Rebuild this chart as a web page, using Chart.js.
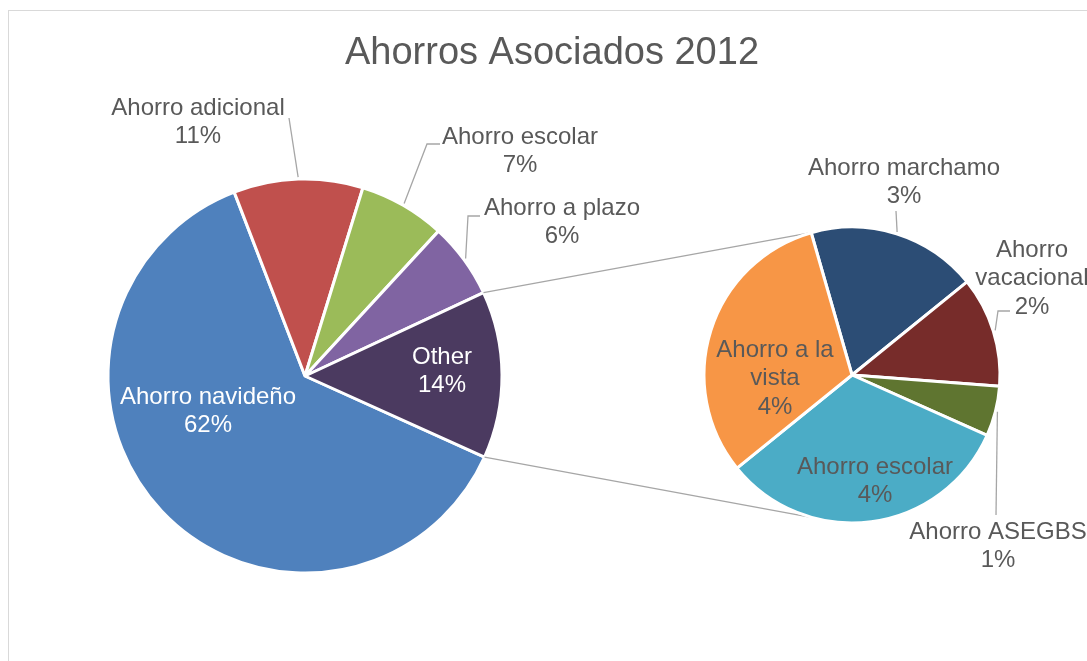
<!DOCTYPE html>
<html>
<head>
<meta charset="utf-8">
<script src="https://cdn.jsdelivr.net/npm/chart.js@4.4.0/dist/chart.umd.min.js"></script>
<style>
  html, body { margin: 0; padding: 0; background: #fff; }
  #wrap { position: relative; width: 1087px; height: 661px; overflow: hidden; }
  #frame { position: absolute; left: 8px; top: 10px; width: 1200px; height: 800px;
           border-left: 1px solid #d9d9d9; border-top: 1px solid #d9d9d9; }
  canvas { position: absolute; left: 0; top: 0; }
</style>
</head>
<body>
<div id="wrap">
  <div id="frame"></div>
  <canvas id="mainPie" width="1087" height="661"></canvas>
  <canvas id="subPie" width="1087" height="661"></canvas>
</div>
<script>
// data: main pie
const mainLabels = ['Ahorro navideño', 'Ahorro adicional', 'Ahorro escolar', 'Ahorro a plazo', 'Other'];
const mainValues = [62.4, 10.6, 7.1, 6.2, 13.7];
const mainColors = ['#4F81BD', '#C0504D', '#9BBB59', '#8064A2', '#4B3A60'];

// data: secondary pie (breakdown of "Other")
const subLabels = ['Ahorro marchamo', 'Ahorro vacacional', 'Ahorro ASEGBS', 'Ahorro escolar', 'Ahorro a la vista'];
const subValues = [2.55, 1.65, 0.75, 4.45, 4.3];
const subColors = ['#2C4D75', '#772C2A', '#5F7530', '#4BACC6', '#F79646'];

const chartTitle = 'Ahorros Asociados 2012';

// style
const textGray = '#595959';
const lineGray = '#a6a6a6';
const fontFamily = '"Liberation Sans", Arial, sans-serif';
const labelSize = 24;
const lineH = 28.5;
const grandTotal = mainValues.reduce((a, b) => a + b, 0);

// label placement (page pixels) and leader line bends
const mainLabelPos = [
  { x: 208, y: 397, color: '#fff' },
  { x: 198, y: 108, line: [[289, 118]] },
  { x: 520, y: 137, line: [[427, 144], [440, 144]] },
  { x: 562, y: 208, line: [[468, 216], [480, 216]] },
  { x: 442, y: 357, color: '#fff' }
];
const subLabelPos = [
  { x: 904, y: 168, line: [[896, 211]] },
  { x: 1032, y: 250, wrap: 120, line: [[998, 311], [1010, 311]] },
  { x: 998, y: 532, line: [[996, 515]] },
  { x: 875, y: 467 },
  { x: 775, y: 350, wrap: 140 }
];
const linkAngle = 106; // where connector lines meet the small pie

function pct(v) {
  return Math.round(v / grandTotal * 100) + '%';
}

function wrapText(ctx, text, maxW) {
  if (!maxW) return [text];
  const words = text.split(' ');
  const out = [];
  let cur = '';
  words.forEach((w) => {
    const test = cur ? cur + ' ' + w : w;
    if (cur && ctx.measureText(test).width > maxW) {
      out.push(cur);
      cur = w;
    } else {
      cur = test;
    }
  });
  out.push(cur);
  return out;
}

function drawLabels(chart, names, values, pos) {
  const ctx = chart.ctx;
  const meta = chart.getDatasetMeta(0);
  ctx.save();
  ctx.font = labelSize + 'px ' + fontFamily;
  ctx.textAlign = 'center';
  ctx.textBaseline = 'middle';
  meta.data.forEach((arc, i) => {
    const p = pos[i];
    if (p.line) {
      const mid = (arc.startAngle + arc.endAngle) / 2;
      const r = arc.outerRadius + 2;
      ctx.beginPath();
      ctx.moveTo(arc.x + r * Math.cos(mid), arc.y + r * Math.sin(mid));
      p.line.forEach((pt) => ctx.lineTo(pt[0], pt[1]));
      ctx.strokeStyle = lineGray;
      ctx.lineWidth = 1.3;
      ctx.stroke();
    }
    const lines = wrapText(ctx, names[i], p.wrap).concat([pct(values[i])]);
    ctx.fillStyle = p.color || textGray;
    lines.forEach((t, k) => ctx.fillText(t, p.x, p.y + k * lineH));
  });
  ctx.restore();
}

let subChart;

// secondary pie
subChart = new Chart(document.getElementById('subPie'), {
  type: 'pie',
  data: {
    labels: subLabels,
    datasets: [{
      data: subValues,
      backgroundColor: subColors,
      borderColor: '#fff',
      borderWidth: 3,
      offset: 0,
      hoverOffset: 0
    }]
  },
  options: {
    responsive: false,
    animation: false,
    rotation: 344,
    layout: { padding: { left: 702.5, top: 225.5, right: 85.5, bottom: 136.5 } },
    plugins: { legend: { display: false }, tooltip: { enabled: false }, title: { display: false } }
  },
  plugins: [{
    id: 'subLabels',
    afterDraw(chart) {
      drawLabels(chart, subLabels, subValues, subLabelPos);
    }
  }]
});

// main pie
const mainChart = new Chart(document.getElementById('mainPie'), {
  type: 'pie',
  data: {
    labels: mainLabels,
    datasets: [{
      data: mainValues,
      backgroundColor: mainColors,
      borderColor: '#fff',
      borderWidth: 3,
      offset: 0,
      hoverOffset: 0
    }]
  },
  options: {
    responsive: false,
    animation: false,
    rotation: 114.3,
    layout: { padding: { left: 106.5, top: 177.5, right: 583.5, bottom: 86.5 } },
    plugins: { legend: { display: false }, tooltip: { enabled: false }, title: { display: false } }
  },
  plugins: [{
    id: 'mainDecor',
    afterDraw(chart) {
      const ctx = chart.ctx;
      // title
      ctx.save();
      ctx.font = '38px ' + fontFamily;
      ctx.fillStyle = textGray;
      ctx.textAlign = 'center';
      ctx.textBaseline = 'middle';
      ctx.fillText(chartTitle, 552, 54);
      ctx.restore();

      // connector lines from "Other" slice to the small pie
      const other = chart.getDatasetMeta(0).data[4];
      const sub = subChart.getDatasetMeta(0).data[0];
      const a = linkAngle * Math.PI / 180;
      const ends = [
        [other.startAngle, -a],
        [other.endAngle, a]
      ];
      ctx.save();
      ctx.strokeStyle = lineGray;
      ctx.lineWidth = 1.3;
      ends.forEach(([ang, sAng]) => {
        ctx.beginPath();
        ctx.moveTo(other.x + other.outerRadius * Math.cos(ang), other.y + other.outerRadius * Math.sin(ang));
        ctx.lineTo(sub.x + sub.outerRadius * Math.cos(sAng), sub.y + sub.outerRadius * Math.sin(sAng));
        ctx.stroke();
      });
      ctx.restore();

      drawLabels(chart, mainLabels, mainValues, mainLabelPos);
    }
  }]
});
</script>
</body>
</html>
